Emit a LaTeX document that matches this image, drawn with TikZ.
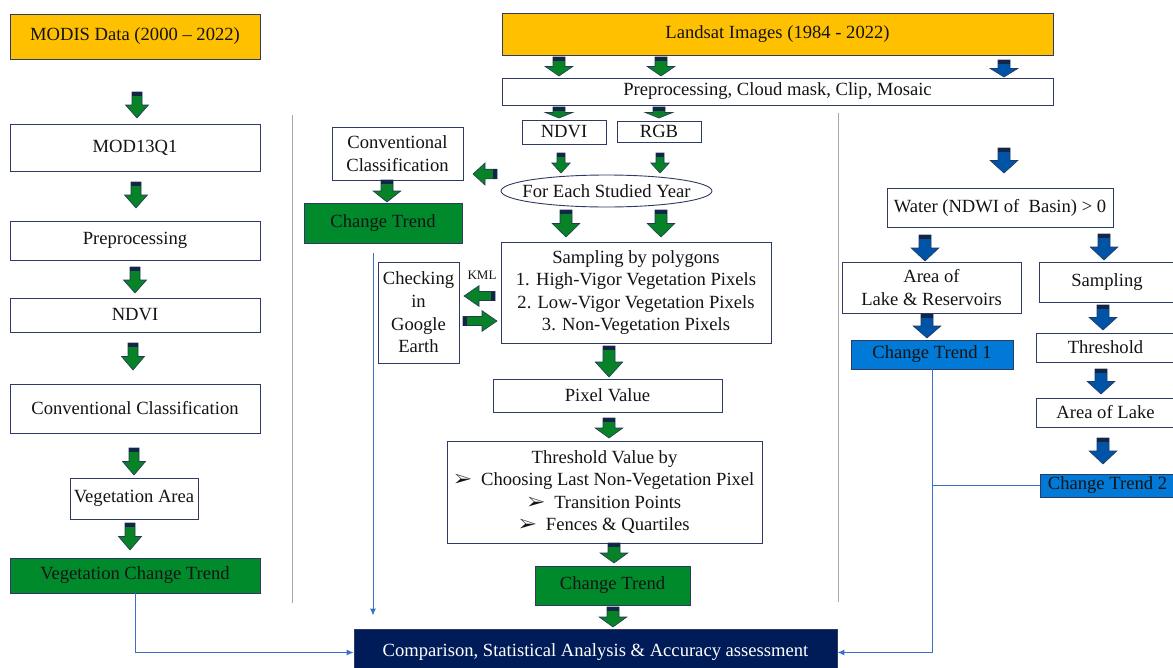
\documentclass[tikz,border=0pt]{standalone}
\usepackage{fontspec}
\setmainfont{Liberation Serif}
\usepackage{pifont}
\usetikzlibrary{arrows.meta,shapes.geometric}

\definecolor{boxline}{RGB}{47,58,98}
\definecolor{textdark}{RGB}{20,20,20}
\definecolor{srcorange}{RGB}{255,192,0}
\definecolor{trendgreen}{RGB}{0,138,44}
\definecolor{trendblue}{RGB}{0,122,214}
\definecolor{navy}{RGB}{0,28,88}
\definecolor{arrgreen}{RGB}{8,130,38}
\definecolor{arrblue}{RGB}{0,84,168}
\definecolor{arrcap}{RGB}{20,38,72}
\definecolor{arrline}{RGB}{36,56,88}
\definecolor{flowblue}{RGB}{60,112,200}

\tikzset{
  box/.style={draw=boxline, line width=0.9pt, fill=white, text=textdark,
    align=center, inner sep=0pt, font=\fontsize{18.6}{22.6}\selectfont},
  spanbox/.style n args={4}{at={({(#1+#3)/2},{(#2+#4)/2})},
    minimum width={#3-#1}, minimum height={#4-#2}},
  srcbox/.style={box, fill=srcorange},
  greenbox/.style={box, fill=trendgreen},
  bluebox/.style={box, fill=trendblue},
  finalbox/.style={box, fill=navy, text=white},
  flow/.style={draw=flowblue, line width=1pt, -{Latex[length=7pt,width=6pt]}},
  link/.style={draw=flowblue, line width=1pt},
  sepline/.style={draw=gray!70, line width=1pt}
}

% block arrow pointing down: [half shaft]{colour}{x}{top}{tip}
\newcommand{\dnarrow}[5][5]{%
  \pgfmathsetmacro\arrhl{min(15,0.5*(#5-#4))}%
  \pgfmathsetmacro\arrby{#5-\arrhl}%
  \pgfmathsetmacro\arrhw{2.3*#1}%
  \filldraw[fill=#2, draw=arrline, line width=0.6pt]
    (#3-#1,#4) -- (#3+#1,#4) -- (#3+#1,\arrby) -- (#3+\arrhw,\arrby) -- (#3,#5)
    -- (#3-\arrhw,\arrby) -- (#3-#1,\arrby) -- cycle;
  \fill[arrcap] (#3-#1,#4) rectangle (#3+#1,#4+4);
}
% block arrow sideways: [half shaft]{colour}{tail x}{tip x}{y}
\newcommand{\hzarrow}[5][5]{%
  \pgfmathsetmacro\arrhl{min(15,0.5*abs(#4-#3))}%
  \pgfmathsetmacro\arrbx{#4-\arrhl*sign(#4-#3)}%
  \pgfmathsetmacro\arrcx{#3+4*sign(#4-#3)}%
  \pgfmathsetmacro\arrhw{2.3*#1}%
  \filldraw[fill=#2, draw=arrline, line width=0.6pt]
    (#3,#5-#1) -- (\arrbx,#5-#1) -- (\arrbx,#5-\arrhw) -- (#4,#5)
    -- (\arrbx,#5+\arrhw) -- (\arrbx,#5+#1) -- (#3,#5+#1) -- cycle;
  \fill[arrcap] (#3,#5-#1) rectangle (\arrcx,#5+#1);
}

\begin{document}
\begin{tikzpicture}[x=1pt,y=-1pt]
\useasboundingbox (0,0) rectangle (1173,667);
\clip (0,0) rectangle (1173,667);

% MODIS column
\node[srcbox, spanbox={10}{14}{260}{59}] (modis) {MODIS Data (2000 -- 2022)};
\node[box, spanbox={10}{124}{260}{171}] (mod13) {MOD13Q1};
\node[box, spanbox={10}{221}{260}{260}] (prepL) {Preprocessing};
\node[box, spanbox={10}{298}{260}{332}] (ndviL) {NDVI};
\node[box, spanbox={10}{384}{260}{433}] (convL) {Conventional Classification};
\node[box, spanbox={70}{478}{198}{519}] (vegarea) {Vegetation Area};
\node[greenbox, spanbox={10}{558}{260}{593}] (vegtrend) {Vegetation Change Trend};

% Landsat column
\node[srcbox, spanbox={502}{13}{1053}{55}] (landsat) {Landsat Images (1984 - 2022)};
\node[box, spanbox={502}{78}{1053}{105}] (prepM) {Preprocessing, Cloud mask, Clip, Mosaic};
\node[box, spanbox={522}{120}{606}{144}] (ndviM) {NDVI};
\node[box, spanbox={617}{121}{701}{142}] (rgb) {RGB};
\node[draw=boxline, line width=0.9pt, fill=white, ellipse, inner sep=0pt,
  minimum width=211, minimum height=32] (year) at (606.5,191) {};
\node[font=\fontsize{18.6}{22.6}\selectfont, text=textdark] (yeartext) at (year) {For Each Studied Year};
\node[box, spanbox={332}{127}{463}{180}] (convM) {Conventional\\Classification};
\node[greenbox, spanbox={304}{203}{462}{243}] (trendM1) {Change Trend};
\node[box, spanbox={501}{242}{771}{343}] (sampling) {Sampling by polygons\\
  1. High-Vigor Vegetation Pixels\\2. Low-Vigor Vegetation Pixels\\3. Non-Vegetation Pixels};
\node[box, spanbox={378}{262}{459}{363}] (checking) {Checking\\in\\Google\\Earth};
\node[text=textdark, font=\fontsize{13}{15}\selectfont] (kml) at (482,275) {KML};
\node[box, spanbox={493}{379}{722}{412}] (pixel) {Pixel Value};
\node[box, spanbox={447}{441}{762}{543}] (threshM) {Threshold Value by\\
  \ding{226}\enspace Choosing Last Non-Vegetation Pixel\\
  \ding{226}\enspace Transition Points\\
  \ding{226}\enspace Fences \& Quartiles};
\node[greenbox, spanbox={535}{566}{690}{605}] (trendM2) {Change Trend};
\node[finalbox, spanbox={354}{629}{837}{676}] (compare)
  {Comparison, Statistical Analysis \& Accuracy assessment};

% water column
\node[box, spanbox={887}{188}{1113}{227}] (water) {Water (NDWI of\ \ Basin) > 0};
\node[box, spanbox={842}{262}{1021}{313}] (areaLR) {Area of\\Lake \& Reservoirs};
\node[box, spanbox={1039}{262}{1175}{302}] (samplingR) {Sampling};
\node[bluebox, spanbox={851}{340}{1013}{369}] (trend1) {Change Trend 1};
\node[box, spanbox={1036}{333}{1175}{362}] (threshR) {Threshold};
\node[box, spanbox={1036}{398}{1175}{427}] (areaL) {Area of Lake};
\node[bluebox, spanbox={1040}{474}{1175}{497}] (trend2) {Change Trend 2};

% separators
\draw[sepline] (292,115) -- (292,603);
\draw[sepline] (838,113) -- (838,602);

% connectors
\draw[flow] (vegtrend.south) |- (compare.west);
\draw[flow, shorten <=10pt, shorten >=13pt] (trendM1.south -| 373,0) -- (compare.north -| 373,0);
\draw[flow] (trend1.south) |- (compare.east);
\draw[link] (trend2.west) -- (trend2.west -| trend1.south);

% block arrows
\dnarrow[5]{arrgreen}{137}{92}{118}
\dnarrow[5]{arrgreen}{136}{182}{208}
\dnarrow[5]{arrgreen}{135}{267}{293}
\dnarrow[5]{arrgreen}{133}{343}{370}
\dnarrow[5]{arrgreen}{134}{448}{475}
\dnarrow[5]{arrgreen}{130}{523}{550}

\dnarrow[6]{arrgreen}{559}{57}{76}
\dnarrow[6]{arrgreen}{661}{57}{76}
\dnarrow[6]{arrblue}{1004}{60}{77}
\dnarrow[6]{arrgreen}{559}{107}{118}
\dnarrow[6]{arrgreen}{659}{107}{118}
\dnarrow[4]{arrgreen}{561}{153}{173}
\dnarrow[4]{arrgreen}{660}{153}{173}
\hzarrow[4.8]{arrgreen}{497}{473}{174}
\dnarrow[6]{arrgreen}{387}{180}{202}
\dnarrow[6]{arrgreen}{566}{210}{237}
\dnarrow[6]{arrgreen}{661}{210}{237}
\hzarrow[4.5]{arrgreen}{495}{464}{296}
\hzarrow[4.5]{arrgreen}{463}{497}{321}
\dnarrow[6]{arrgreen}{609}{346}{377}
\dnarrow[6]{arrgreen}{609}{418}{438}
\dnarrow[6]{arrgreen}{614}{543}{563}
\dnarrow[6]{arrgreen}{613}{607}{627}

\dnarrow[6]{arrblue}{1004}{148}{173}
\dnarrow[6]{arrblue}{925}{235}{261}
\dnarrow[6]{arrblue}{1104}{234}{260}
\dnarrow[6]{arrblue}{927}{314}{338}
\dnarrow[6]{arrblue}{1103}{305}{330}
\dnarrow[6]{arrblue}{1101}{369}{394}
\dnarrow[6]{arrblue}{1103}{438}{464}

\end{tikzpicture}
\end{document}
